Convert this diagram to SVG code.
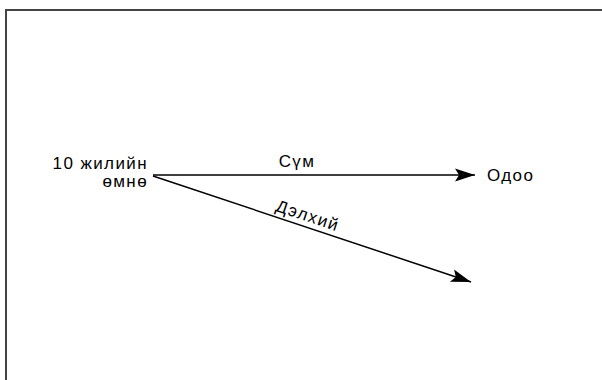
<svg xmlns="http://www.w3.org/2000/svg" width="602" height="380" viewBox="0 0 602 380">
<style>
text{font-family:"Liberation Sans",Arial,sans-serif;font-size:17px;letter-spacing:1.4px;fill:#000}
.edge{stroke:#000;stroke-width:1.5;fill:none}
.frame{stroke:#444;stroke-width:2;fill:none}
</style>
<defs>
<marker id="arr" markerUnits="userSpaceOnUse" markerWidth="24" markerHeight="16" refX="20" refY="7" orient="auto" viewBox="0 0 24 16">
<path d="M20,7 L0,0.5 L4,7 L0,13.5 Z" fill="#000"/>
</marker>
</defs>
<rect width="602" height="380" fill="#fff"/>
<path class="frame" d="M6,385 V10 H605"/>
<g id="node-past">
<text x="148" y="169" text-anchor="end">10 жилийн</text>
<text x="148" y="187" text-anchor="end">өмнө</text>
</g>
<g id="node-now">
<text x="487" y="181">Одоо</text>
</g>
<g id="connectors">
<path class="edge" d="M153,175 H475" marker-end="url(#arr)"/>
<text x="297" y="167" text-anchor="middle">Сүм</text>
<path class="edge" d="M153,176 L471,282" marker-end="url(#arr)"/>
<text transform="translate(306,221) rotate(18.43)" text-anchor="middle">Дэлхий</text>
</g>
</svg>
